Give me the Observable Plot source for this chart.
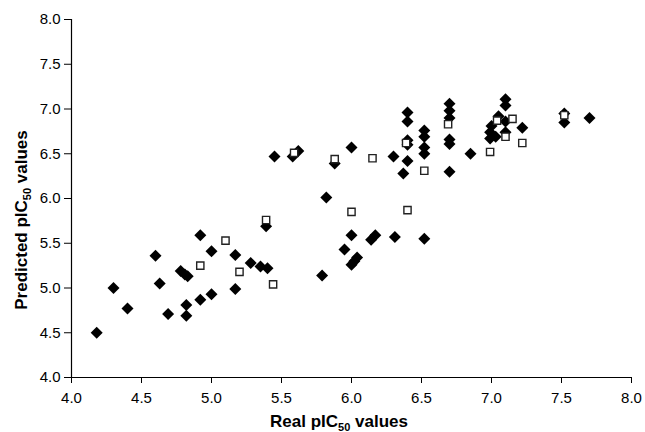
<!DOCTYPE html>
<html>
<head>
<meta charset="utf-8">
<script src="https://cdn.jsdelivr.net/npm/d3@7"></script>
<script src="https://cdn.jsdelivr.net/npm/@observablehq/plot@0.6"></script>
<style>
  html, body { margin: 0; padding: 0; background: #fff; }
  #chart { width: 645px; height: 432px; }
</style>
</head>
<body>
<div id="chart"></div>
<script>
// Training set (filled diamonds)
const trainReal = [4.18,4.30,4.40,4.60,4.63,4.69,4.78,4.81,4.83,4.82,4.82,4.92,4.92,5.00,5.00,5.17,5.17,5.28,5.35,5.40,5.39,5.45,5.58,5.62,5.79,5.82,5.88,6.00,5.95,6.00,6.00,6.02,6.04,6.14,6.17,6.31,6.30,6.37,6.40,6.40,6.40,6.40,6.40,6.52,6.52,6.52,6.52,6.52,6.70,6.70,6.70,6.70,6.70,6.70,6.85,6.99,6.99,7.00,7.03,7.05,7.10,7.10,7.10,7.10,7.22,7.52,7.52,7.70];
const trainPred = [4.50,5.00,4.77,5.36,5.05,4.71,5.19,5.15,5.13,4.81,4.69,5.59,4.87,5.41,4.93,5.37,4.99,5.28,5.24,5.22,5.69,6.47,6.47,6.53,5.14,6.01,6.39,6.57,5.43,5.59,5.26,5.30,5.34,5.54,5.59,5.57,6.47,6.28,6.42,6.60,6.65,6.86,6.96,5.55,6.50,6.57,6.69,6.76,6.30,6.61,6.66,6.90,6.98,7.06,6.50,6.67,6.74,6.81,6.69,6.92,6.74,6.86,7.04,7.11,6.79,6.85,6.95,6.90];
// Test set (open squares)
const testReal = [4.92,5.10,5.20,5.39,5.44,5.59,5.88,6.00,6.15,6.39,6.40,6.52,6.69,6.99,7.04,7.15,7.10,7.22,7.52];
const testPred = [5.25,5.53,5.18,5.76,5.04,6.51,6.44,5.85,6.45,6.62,5.87,6.31,6.83,6.52,6.87,6.89,6.69,6.62,6.93];
const tickValues = [4.0,4.5,5.0,5.5,6.0,6.5,7.0,7.5,8.0];

const train = trainReal.map((x, i) => ({x, y: trainPred[i]}));
const test = testReal.map((x, i) => ({x, y: testPred[i]}));

const font = "'Liberation Sans', Arial, sans-serif";

const chart = Plot.plot({
  width: 645,
  height: 432,
  marginLeft: 71,
  marginRight: 14,
  marginTop: 19,
  marginBottom: 55,
  style: {fontFamily: font, color: "#000", background: "#fff"},
  x: {domain: [4, 8]},
  y: {domain: [4, 8]},
  marks: [
    Plot.axisX({ticks: tickValues, tickFormat: d => d.toFixed(1), tickSize: 6, tickPadding: 9, fontSize: 15, label: null}),
    Plot.axisY({ticks: tickValues, tickFormat: d => d.toFixed(1), tickSize: 7, tickPadding: 4, fontSize: 15, label: null}),
    Plot.ruleY([4], {stroke: "#000", strokeWidth: 1.2}),
    Plot.ruleX([4], {stroke: "#000", strokeWidth: 1.2}),
    Plot.dot(train, {x: "x", y: "y", symbol: "diamond2", r: 5.4, fill: "#000", stroke: "none"}),
    Plot.dot(test, {x: "x", y: "y", symbol: "square2", r: 4.6, fill: "#fff", stroke: "#222", strokeWidth: 1.4})
  ]
});

const svg = d3.select(chart);
// X-axis title with subscript
const xt = svg.append("text")
  .attr("x", 339).attr("y", 427)
  .attr("text-anchor", "middle")
  .attr("font-family", font).attr("font-weight", "bold").attr("font-size", 17)
  .attr("fill", "#000");
xt.append("tspan").text("Real pIC");
xt.append("tspan").attr("font-size", 11).attr("dy", 4).text("50");
xt.append("tspan").attr("dy", -4).text(" values");

// Y-axis title with subscript
const yt = svg.append("text")
  .attr("transform", "translate(27,220) rotate(-90)")
  .attr("text-anchor", "middle")
  .attr("font-family", font).attr("font-weight", "bold").attr("font-size", 17)
  .attr("fill", "#000");
yt.append("tspan").text("Predicted pIC");
yt.append("tspan").attr("font-size", 11).attr("dy", 4).text("50");
yt.append("tspan").attr("dy", -4).text(" values");

document.getElementById("chart").appendChild(chart);
</script>
</body>
</html>
